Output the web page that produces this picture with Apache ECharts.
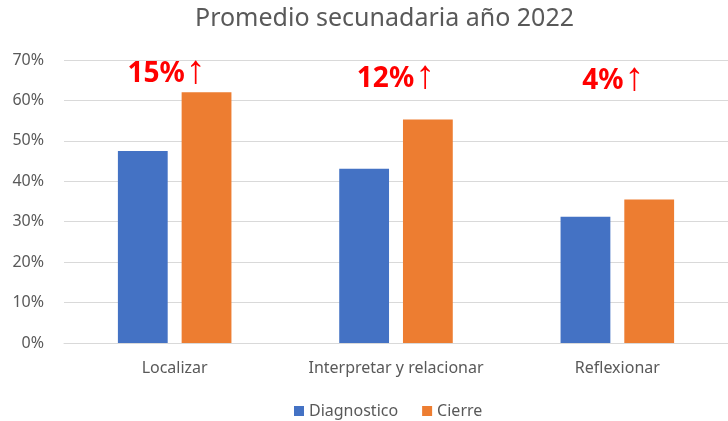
<!DOCTYPE html>
<html><head><meta charset="utf-8">
<script src="https://cdn.jsdelivr.net/npm/echarts@6/dist/echarts.min.js"></script>
<style>html,body{margin:0;padding:0;background:#fff}#c{width:728px;height:421px}</style>
</head><body><div id="c"></div>
<script>
const categories = ['Localizar', 'Interpretar y relacionar', 'Reflexionar'];
const diagnostico = [0.475, 0.431, 0.312];
const cierre = [0.620, 0.553, 0.355];
const annotationPct = ['15%', '12%', '4%'];
const annotationLevel = [0.665, 0.653, 0.648];
const yTicks = [0, 0.1, 0.2, 0.3, 0.4, 0.5, 0.6, 0.7];

const font = '"Noto Sans", "Open Sans", sans-serif';
const chart = echarts.init(document.getElementById('c'));
chart.setOption({
  animation: false,
  textStyle: { fontFamily: font },
  title: {
    text: 'Promedio secunadaria año 2022',
    left: 190, top: 1,
    textStyle: { fontSize: 25, fontWeight: 'normal', color: '#595959', fontFamily: font }
  },
  grid: { left: 64, right: -13, top: 60, bottom: 78, containLabel: false },
  legend: {
    top: 398, left: 289, itemWidth: 10, itemHeight: 10, itemGap: 24,
    icon: 'rect',
    textStyle: { fontSize: 16, color: '#595959', fontFamily: font },
    data: ['Diagnostico', 'Cierre']
  },
  xAxis: {
    type: 'category', data: categories,
    axisLine: { lineStyle: { color: '#d9d9d9' } },
    axisTick: { show: false },
    axisLabel: { fontSize: 16, color: '#595959', margin: 17, interval: 0 }
  },
  yAxis: {
    type: 'value', min: yTicks[0], max: yTicks[yTicks.length - 1], interval: 0.1,
    axisLine: { show: false }, axisTick: { show: false },
    splitLine: { lineStyle: { color: '#d9d9d9' } },
    axisLabel: { fontSize: 16, color: '#595959', margin: 20,
      formatter: v => Math.round(v * 100) + '%' }
  },
  series: [
    { name: 'Diagnostico', type: 'bar', data: diagnostico, barWidth: '22.5%', barGap: '28%',
      itemStyle: { color: '#4472c4' } },
    { name: 'Cierre', type: 'bar', data: cierre, barWidth: '22.5%', barGap: '28%',
      itemStyle: { color: '#ed7d31' } }
  ]
});
const annDx = [-8, 0, -4];
const graphics = annotationPct.map((t, i) => {
  const p = chart.convertToPixel({ gridIndex: 0 }, [i, annotationLevel[i]]);
  return {
    type: 'text', x: p[0] + annDx[i], y: p[1],
    style: {
      text: '{a|' + t + '}{b|↑}',
      align: 'center', verticalAlign: 'middle',
      rich: {
        a: { fontSize: 28, fontWeight: 'bold', fill: '#ff0000', fontFamily: font, verticalAlign: 'middle' },
        b: { fontSize: 40, fontWeight: 'normal', fill: '#ff0000', fontFamily: '"Liberation Sans", sans-serif', verticalAlign: 'middle', padding: [0, 0, 4, 1] }
      }
    }
  };
});
chart.setOption({ graphic: graphics });
</script></body></html>
